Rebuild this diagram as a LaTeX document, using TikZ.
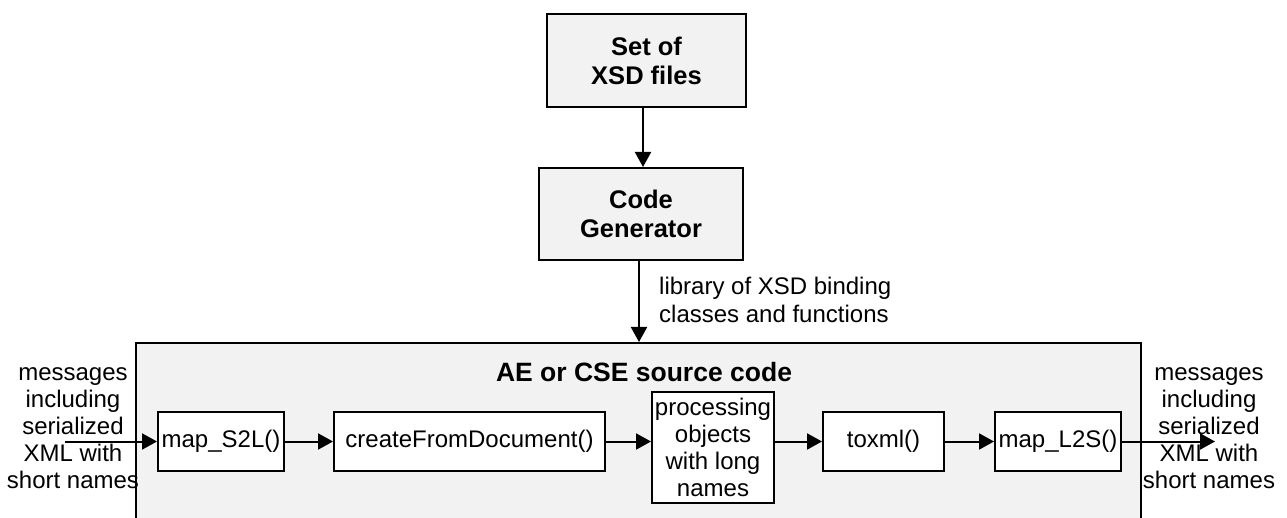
\documentclass[tikz,border=0pt]{standalone}
\usepackage{fontspec}
\setmainfont{Liberation Sans}
\usetikzlibrary{arrows.meta}
\begin{document}
\begin{tikzpicture}[x=1pt,y=-1pt,
  arr/.style={line width=2pt,-{Triangle[length=15pt,width=16pt]}},
  bx/.style={draw,line width=2pt,inner sep=0pt,align=center},
  topbx/.style={bx,fill=black!5,font=\fontsize{25.5}{29}\selectfont\bfseries},
  inbx/.style={bx,fill=white,font=\fontsize{24}{27}\selectfont},
  lbl/.style={inner sep=0pt,align=center,font=\fontsize{24}{27}\selectfont}]
\useasboundingbox (0,0) rectangle (1287,518);
\node[bx,fill=black!5,minimum width=1005pt,minimum height=190pt] (big) at (638.5,438) {};
\node[topbx,minimum width=199pt,minimum height=93pt] (xsd) at (646.5,60.5) {Set of\\XSD files};
\node[topbx,minimum width=204pt,minimum height=92pt] (cg) at (641,214) {Code\\Generator};
\node[font=\fontsize{26.5}{30}\selectfont\bfseries,inner sep=0pt] (title) at (644,372) {AE or CSE source code};
\node[inbx,minimum width=126pt,minimum height=59pt] (s2l) at (221,441.5) {map\_S2L()};
\node[inbx,minimum width=271pt,minimum height=59pt] (cfd) at (469.5,441.5) {createFromDocument()};
\node[inbx,minimum width=122pt,minimum height=111pt] (proc) at (713,447.5) {processing\\objects\\with long\\names};
\node[inbx,minimum width=121pt,minimum height=59pt] (tox) at (883.5,441.5) {toxml()};
\node[inbx,minimum width=126pt,minimum height=59pt] (l2s) at (1058,441.5) {map\_L2S()};
\node[lbl,align=left,anchor=west,font=\fontsize{24}{28}\selectfont] (lib) at (659,300) {library of XSD binding\\classes and functions};
\node[lbl] (inl) at (73,428) {messages\\including\\serialized\\XML with\\short names};
\node[lbl] (outl) at (1209,428) {messages\\including\\serialized\\XML with\\short names};
\coordinate (a1) at (643,0);
\coordinate (a2) at (639,0);
\coordinate (in) at (65,441.5);
\coordinate (out) at (1215,441.5);
\draw[arr] (xsd.south -| a1) -- (cg.north -| a1);
\draw[arr] (cg.south -| a2) -- (big.north -| a2);
\draw[arr] (in) -- (s2l.west);
\draw[arr] (s2l) -- (cfd);
\draw[arr] (cfd) -- (proc.west |- cfd);
\draw[arr] (proc.east |- tox) -- (tox);
\draw[arr] (tox) -- (l2s);
\draw[arr] (l2s.east) -- (out);
\end{tikzpicture}
\end{document}
